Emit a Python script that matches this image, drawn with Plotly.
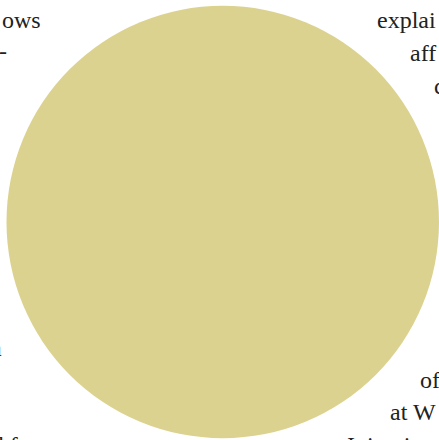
import plotly.graph_objects as go

W, H = 439, 440

# single-slice pie (full circle)
slice_labels = ["share"]
slice_values = [100]
slice_colors = ["#dcd28f"]

# surrounding text fragments
text_frags = ["ows", "-", "na", "ld f", "explai", "aff", "c", "of", "at W", "I  in   i"]
text_x = [43, 9, 4, 20, 375, 408, 432, 418, 388, 345]
text_base = [27, 58, 355, 452, 27, 60, 93, 387, 419, 452]
text_anchor = ["right", "right", "right", "right", "left", "left", "left", "left", "left", "left"]

cx, cy, r = 223, 222, 217

fig = go.Figure(go.Pie(
    labels=slice_labels, values=slice_values,
    marker=dict(colors=slice_colors, line=dict(width=0)),
    textinfo="none", hoverinfo="none", sort=False,
    domain=dict(x=[(cx - r + 0.5) / W, 1.0], y=[(H - cy - r) / H, (H - cy + r) / H]),
    showlegend=False,
))

for t, x, b, a in zip(text_frags, text_x, text_base, text_anchor):
    fig.add_annotation(
        text=t, x=x / W, y=(H - (b - 7)) / H, xref="paper", yref="paper",
        xanchor=a, yanchor="middle", showarrow=False,
        font=dict(family="Liberation Serif", size=24, color="#222222"),
    )

fig.update_layout(
    width=W, height=H, margin=dict(l=0, r=0, t=0, b=0),
    paper_bgcolor="white", plot_bgcolor="white",
)
fig.write_html(
    "out.html",
    config={"displayModeBar": False, "staticPlot": True},
    post_script="document.body.style.margin='0';document.body.style.overflow='hidden';",
)
